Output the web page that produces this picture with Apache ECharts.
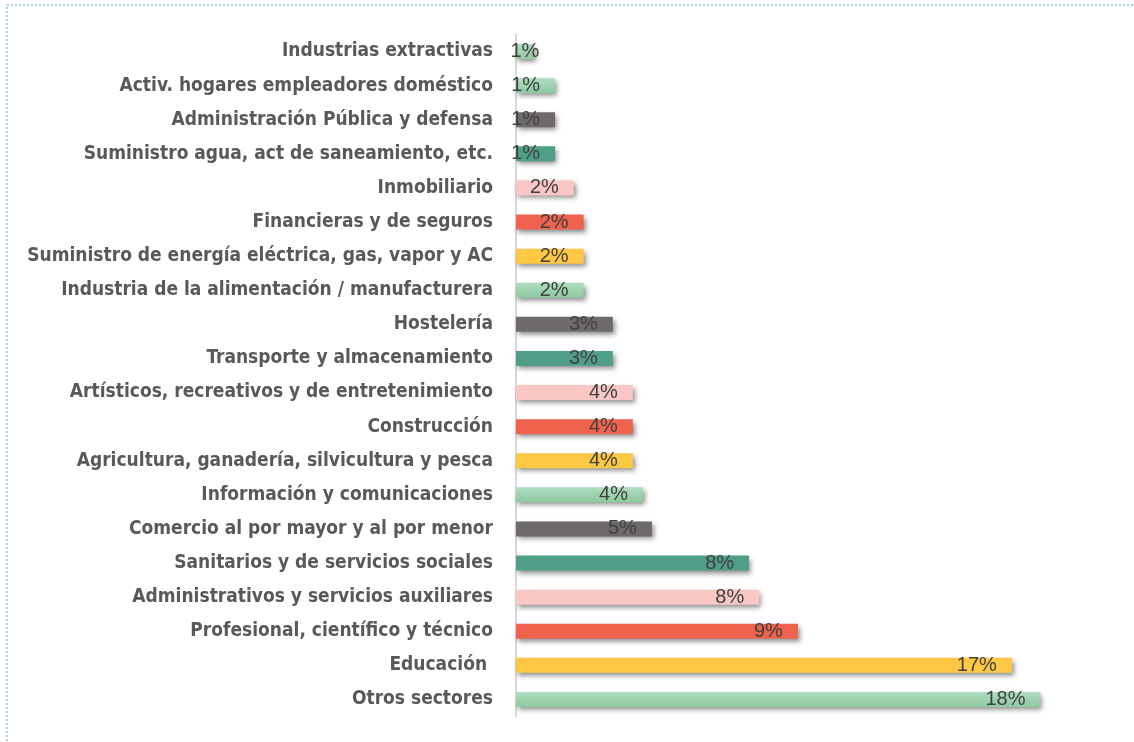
<!DOCTYPE html>
<html>
<head>
<meta charset="utf-8">
<script src="https://cdn.jsdelivr.net/npm/echarts@6/dist/echarts.min.js"></script>
<style>
html,body{margin:0;padding:0;background:#fff;}
#chart{width:1134px;height:742px;}
</style>
</head>
<body>
<div id="chart"></div>
<script>
// Categories, top to bottom
const categories = [
  "Industrias extractivas",
  "Activ. hogares empleadores doméstico",
  "Administración Pública y defensa",
  "Suministro agua, act de saneamiento, etc.",
  "Inmobiliario",
  "Financieras y de seguros",
  "Suministro de energía eléctrica, gas, vapor y AC",
  "Industria de la alimentación / manufacturera",
  "Hostelería",
  "Transporte y almacenamiento",
  "Artísticos, recreativos y de entretenimiento",
  "Construcción",
  "Agricultura, ganadería, silvicultura y pesca",
  "Información y comunicaciones",
  "Comercio al por mayor y al por menor",
  "Sanitarios y de servicios sociales",
  "Administrativos y servicios auxiliares",
  "Profesional, científico y técnico",
  "Educación ",
  "Otros sectores"
];
// Percent values, same order
const values = [0.6, 1.31, 1.31, 1.31, 1.94, 2.27, 2.27, 2.27, 3.25, 3.25, 3.92, 3.92, 3.92, 4.26, 4.56, 7.82, 8.16, 9.46, 16.64, 17.6];
// Colour key per bar
const colorKeys = ["green","green","grey","teal","pink","red","yellow","green","grey","teal","pink","red","yellow","green","grey","teal","pink","red","yellow","green"];

const palette = {
  green: {type:'linear',x:0,y:0,x2:0,y2:1,colorStops:[{offset:0,color:'#afdcbf'},{offset:1,color:'#8dc9a0'}]},
  yellow: '#fec844',
  red: '#ee624e',
  pink: '#f9c8c4',
  teal: '#4f9e88',
  grey: '#6f6a6a'
};

const chart = echarts.init(document.getElementById('chart'), null, {renderer:'canvas'});

const data = values.map((v, i) => {
  const item = {
    value: v,
    itemStyle: { color: palette[colorKeys[i]] }
  };
  if (v < 1) item.label = { position: 'inside' };
  return item;
});

chart.setOption({
  animation: false,
  backgroundColor: '#ffffff',
  graphic: [{
    type: 'rect',
    shape: { x: 7, y: 5, width: 1200, height: 800 },
    style: { fill: 'none', stroke: '#a9d8b8', lineWidth: 2, lineDash: [2, 2] },
    silent: true,
    z: -1
  }],
  grid: { left: 516, right: 22, top: 34.5, bottom: 25.5, containLabel: false, outerBoundsMode: 'none' },
  xAxis: {
    type: 'value',
    min: 0,
    max: 20,
    show: false,
    splitLine: { show: false }
  },
  yAxis: {
    type: 'category',
    data: categories,
    inverse: true,
    axisLine: { show: true, lineStyle: { color: '#d9d9d9', width: 2 } },
    axisTick: { show: false },
    axisLabel: {
      margin: 23,
      color: '#595959',
      fontFamily: '"Liberation Sans Narrow", "DejaVu Sans Condensed", sans-serif',
      fontWeight: 'bold',
      fontSize: 19
    }
  },
  series: [{
    type: 'bar',
    data: data,
    barWidth: 15,
    itemStyle: {
      shadowColor: 'rgba(0,0,0,0.45)',
      shadowBlur: 5,
      shadowOffsetX: 2,
      shadowOffsetY: 3
    },
    label: {
      show: true,
      position: 'insideRight',
      distance: 15,
      color: '#404040',
      fontFamily: '"Liberation Sans", Arial, sans-serif',
      fontSize: 20,
      formatter: p => Math.round(p.value) + '%'
    }
  }]
});
</script>
</body>
</html>
